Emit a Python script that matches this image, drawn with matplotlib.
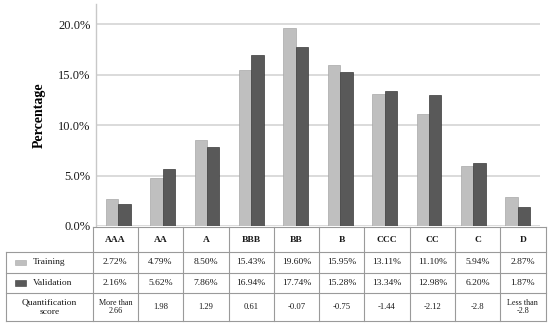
import numpy as np
import matplotlib.pyplot as plt
from matplotlib.patches import Rectangle

plt.rcParams['font.family'] = ['Liberation Serif', 'DejaVu Serif']

grades = ['AAA', 'AA', 'A', 'BBB', 'BB', 'B', 'CCC', 'CC', 'C', 'D']
training = [2.72, 4.79, 8.50, 15.43, 19.60, 15.95, 13.11, 11.10, 5.94, 2.87]
validation = [2.16, 5.62, 7.86, 16.94, 17.74, 15.28, 13.34, 12.98, 6.20, 1.87]
scores = ['More than\n2.66', '1.98', '1.29', '0.61', '-0.07', '-0.75',
          '-1.44', '-2.12', '-2.8', 'Less than\n-2.8']
yticks = [0, 5, 10, 15, 20]

c_train = '#bfbfbf'
c_val = '#595959'
W, H = 550, 328

fig = plt.figure(figsize=(5.5, 3.28), dpi=100)
ax = fig.add_axes([96 / W, 1 - 226 / H, 444 / W, 222 / H])

x = np.arange(len(grades))
bw = 0.278
ax.bar(x - bw / 2, training, bw, color=c_train, edgecolor='#a8a8a8', linewidth=0.5, zorder=3)
ax.bar(x + bw / 2, validation, bw, color=c_val, edgecolor='#3a3a3a', linewidth=0.5, zorder=3)

ax.set_xlim(-0.5, len(grades) - 0.5)
ax.set_ylim(0, 22)
ax.set_yticks(yticks)
ax.set_yticklabels(['%.1f%%' % v for v in yticks], fontsize=9, color='#1a1a1a')
ax.set_xticks([])
ax.tick_params(axis='y', length=0, pad=4)
ax.yaxis.grid(True, color='#d4d4d4', linewidth=1.2, zorder=0)
for s in ['top', 'right', 'bottom']:
    ax.spines[s].set_visible(False)
ax.spines['left'].set_color('#c8c8c8')
ax.spines['left'].set_linewidth(1.0)
ax.set_ylabel('Percentage', fontsize=10, fontweight='bold', labelpad=9)

# table below the plot, drawn in pixel coordinates
tx = fig.add_axes([0, 0, 1, 1])
tx.set_xlim(0, W)
tx.set_ylim(H, 0)
tx.axis('off')
tx.patch.set_visible(False)

left, col0, right = 6, 92.7, 545.5
rows = [227, 252, 273, 293, 321]
cw = (right - col0) / len(grades)
lc = '#9a9a9a'
lw = 0.8

# horizontal lines
tx.plot([col0, right], [rows[0], rows[0]], color=lc, lw=lw)
for yy in rows[1:]:
    tx.plot([left, right], [yy, yy], color=lc, lw=lw)
# vertical lines
tx.plot([left, left], [rows[1], rows[-1]], color=lc, lw=lw)
for i in range(len(grades) + 1):
    xx = col0 + i * cw
    tx.plot([xx, xx], [rows[0], rows[-1]], color=lc, lw=lw)

tc = '#1a1a1a'
for i, g in enumerate(grades):
    cx = col0 + (i + 0.5) * cw
    tx.text(cx, (rows[0] + rows[1]) / 2, g, ha='center', va='center',
            fontsize=6.8, fontweight='bold', color=tc)
    tx.text(cx, (rows[1] + rows[2]) / 2, '%.2f%%' % training[i], ha='center',
            va='center', fontsize=6.8, color=tc)
    tx.text(cx, (rows[2] + rows[3]) / 2, '%.2f%%' % validation[i], ha='center',
            va='center', fontsize=6.8, color=tc)
    fs = 5.9 if '\n' in scores[i] else 6.2
    tx.text(cx, (rows[3] + rows[4]) / 2, scores[i], ha='center', va='center',
            fontsize=fs, color=tc, linespacing=1.1)

# legend keys inside the first column
for r, (lab, col, ec) in enumerate([('Training', c_train, '#a8a8a8'),
                                    ('Validation', c_val, '#3a3a3a')]):
    yc = (rows[1 + r] + rows[2 + r]) / 2
    tx.add_patch(Rectangle((15, yc - 2.8), 11, 5.6, facecolor=col, edgecolor=ec, lw=0.4))
    tx.text(33, yc, lab, ha='left', va='center', fontsize=6.8, color=tc)
tx.text((left + col0) / 2, (rows[3] + rows[4]) / 2, 'Quantification\nscore',
        ha='center', va='center', fontsize=6.8, color=tc, linespacing=1.2)

fig.savefig('out.png', dpi=100)
